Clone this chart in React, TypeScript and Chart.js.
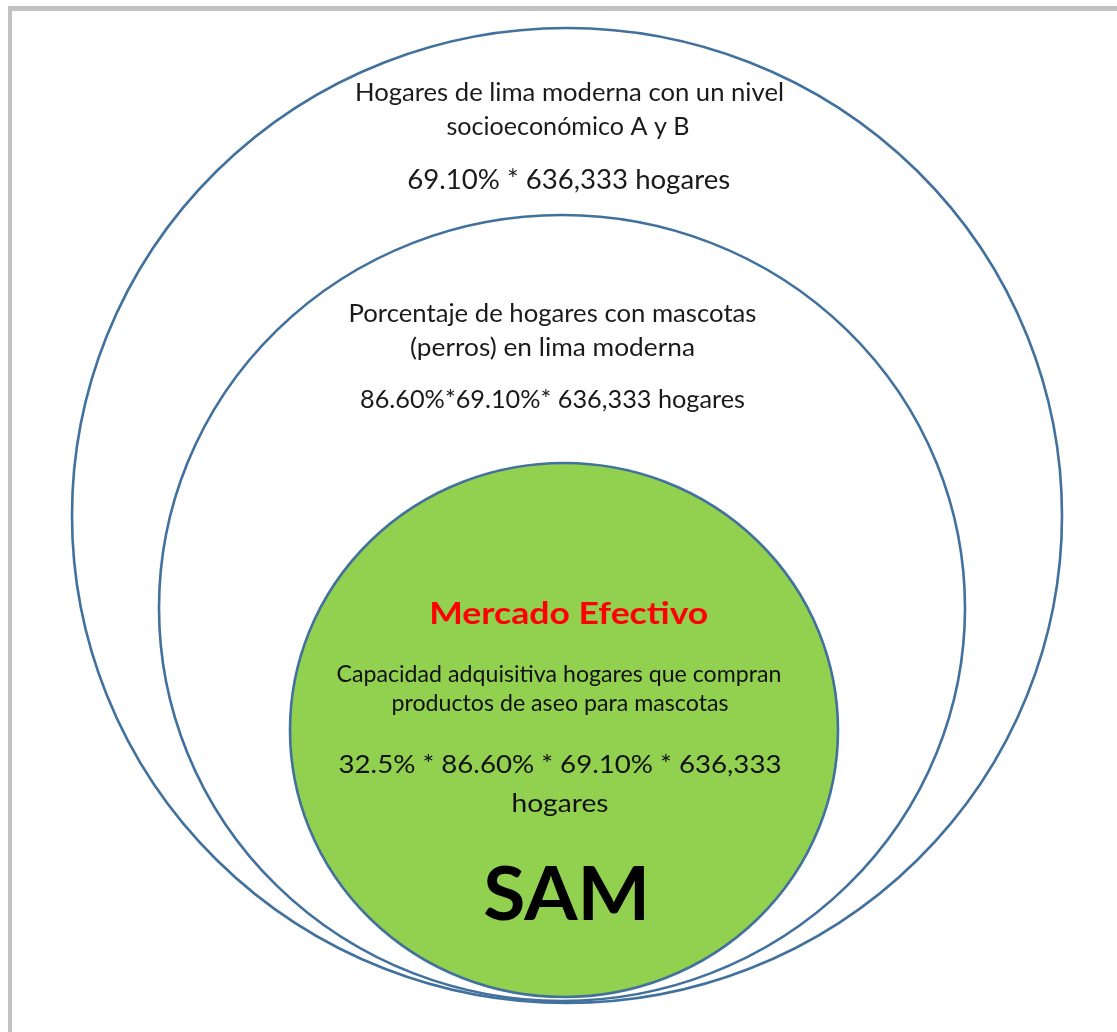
import React, { useEffect, useRef } from "react";
import { Chart, registerables } from "chart.js";

Chart.register(...registerables);

// Nested market circles (data units = reference pixels)
const circleNames = ["Mercado total", "Mercado disponible", "Mercado efectivo"];
const circleCenterX = [567, 562, 564];
const circleCenterY = [515.5, 608, 730];
const circleRadiusX = [495, 403, 274];
const circleRadiusY = [487.5, 393, 267];

// Text labels
const textLines = [
  "Hogares de lima moderna con un nivel",
  "socioeconómico A y B",
  "69.10% * 636,333 hogares",
  "Porcentaje de hogares con mascotas",
  "(perros) en lima moderna",
  "86.60%*69.10%* 636,333 hogares",
  "Mercado Efectivo",
  "Capacidad adquisitiva hogares que compran",
  "productos de aseo para mascotas",
  "32.5% * 86.60% * 69.10% * 636,333",
  "hogares",
  "SAM",
];

// Layout for the labels (kept separate from the content)
const textCenterX = [569.5, 568, 568.7, 552.5, 552.5, 552.5, 568.8, 559, 560, 560, 560, 566.7];
const textBaselineY = [100.7, 135, 189.3, 322.3, 355.7, 408.3, 624.3, 681.7, 710.7, 773.3, 811.7, 920];
const textWidth = [429, 243, 323, 408, 285, 385, 279, 445, 337, 443, 97, 167];
const textCapHeight = [17.3, 17.3, 19.3, 17.3, 17.3, 18.3, 21.6, 16.7, 16.7, 18.3, 18.3, 54];
const textBold = [false, false, false, false, false, false, true, false, false, false, false, true];
const textColor = ["#1a1a1a", "#1a1a1a", "#1a1a1a", "#1a1a1a", "#1a1a1a", "#1a1a1a", "#ff0000", "#111111", "#111111", "#111111", "#111111", "#000000"];

const FONT = "Lato, 'Open Sans', sans-serif";
const CAP_RATIO = 0.7165;

const diagramPlugin = {
  id: "diagram",
  afterDatasetsDraw(chart: any) {
    const ctx = chart.ctx as CanvasRenderingContext2D;
    const xs = chart.scales.x;
    const ys = chart.scales.y;
    ctx.save();
    chart.data.datasets.forEach((ds: any, i: number) => {
      const meta = chart.getDatasetMeta(i);
      const pt = meta.data[0];
      const cx = pt.x;
      const cy = pt.y;
      const rx = Math.abs(xs.getPixelForValue(ds.data[0].x + ds.radiusX) - cx);
      const ry = Math.abs(ys.getPixelForValue(ds.data[0].y + ds.radiusY) - cy);
      ctx.beginPath();
      ctx.ellipse(cx, cy, rx, ry, 0, 0, Math.PI * 2);
      ctx.fillStyle = ds.fillColor;
      ctx.fill();
      ctx.lineWidth = 2.6;
      ctx.strokeStyle = "#41719c";
      ctx.stroke();
    });

    ctx.textAlign = "center";
    ctx.textBaseline = "alphabetic";
    textLines.forEach((t, i) => {
      const weight = textBold[i] ? "bold " : "";
      const size = textCapHeight[i] / CAP_RATIO;
      ctx.font = `${weight}${size}px ${FONT}`;
      const w = ctx.measureText(t).width;
      const sx = textWidth[i] / w;
      ctx.fillStyle = textColor[i];
      const px = xs.getPixelForValue(textCenterX[i]);
      const py = ys.getPixelForValue(textBaselineY[i]);
      ctx.save();
      ctx.translate(px, py);
      ctx.scale(sx, 1);
      ctx.fillText(t, 0, 0);
      ctx.restore();
    });
    ctx.restore();
  },
};

export default function App() {
  const ref = useRef<HTMLCanvasElement | null>(null);

  useEffect(() => {
    if (!ref.current) return;
    const fills = ["#ffffff", "#ffffff", "#92d050"];
    const chart = new Chart(ref.current, {
      type: "scatter",
      data: {
        datasets: circleNames.map((name, i) => ({
          label: name,
          data: [{ x: circleCenterX[i], y: circleCenterY[i] }],
          radiusX: circleRadiusX[i],
          radiusY: circleRadiusY[i],
          fillColor: fills[i],
          pointRadius: 0,
          pointHoverRadius: 0,
        })) as any,
      },
      options: {
        animation: false,
        responsive: false,
        maintainAspectRatio: false,
        layout: { padding: 0 },
        events: [],
        plugins: {
          legend: { display: false },
          tooltip: { enabled: false },
          title: { display: false },
        },
        scales: {
          x: { type: "linear", min: 0, max: 1117, display: false },
          y: { type: "linear", min: 0, max: 1032, reverse: true, display: false },
        },
      },
      plugins: [diagramPlugin],
    });
    return () => chart.destroy();
  }, []);

  return (
    <div style={{ position: "absolute", left: 0, top: 0, width: 1117, height: 1032, background: "#ffffff" }}>
      <div
        style={{
          position: "absolute",
          left: 8,
          top: 6,
          width: 1109,
          height: 1026,
          boxSizing: "border-box",
          borderLeft: "4px solid #c2c2c2",
          borderTop: "5px solid #c2c2c2",
        }}
      />
      <canvas
        ref={ref}
        width={1117}
        height={1032}
        style={{ position: "absolute", left: 0, top: 0, width: 1117, height: 1032 }}
      />
    </div>
  );
}
